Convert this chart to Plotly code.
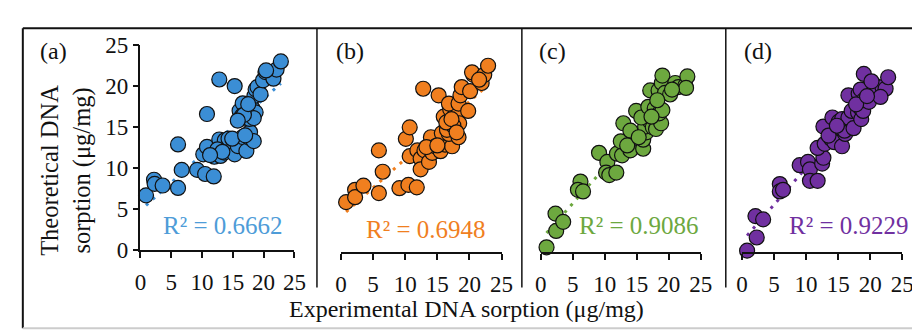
import numpy as np
import plotly.graph_objects as go

# ---------------- data ----------------
x_a = [0.9, 2.2, 2.3, 3.6, 6.1, 6.1, 6.7, 9.2, 10.5, 11.9, 10.8, 12.8, 15.3, 10.2, 10.8, 12.0, 12.8, 13.0,
       13.6, 13.8, 13.7, 14.3, 14.9, 15.3, 15.8, 16.6, 17.2, 17.7, 17.8, 18.4, 14.9, 16.1, 16.6, 16.2, 16.5,
       17.3, 17.7, 18.2, 18.7, 18.4, 18.5, 18.7, 19.0, 19.5, 19.9, 20.3, 21.4, 21.6, 22.1, 22.8, 20.4, 12.5,
       13.3, 11.3, 16.8, 17.0, 15.8, 17.5]
y_a = [6.7, 8.6, 8.1, 7.9, 7.6, 12.9, 9.8, 9.8, 9.3, 9.0, 16.6, 20.8, 20.0, 11.7, 12.6, 11.4, 13.5, 11.5,
       11.9, 12.5, 13.4, 13.6, 12.2, 11.7, 12.7, 13.8, 12.1, 13.7, 14.4, 13.3, 13.6, 17.0, 17.9, 16.0, 16.4,
       16.2, 16.0, 17.3, 16.8, 16.1, 18.8, 19.6, 19.9, 19.0, 20.7, 21.7, 21.6, 20.9, 22.0, 23.0, 21.9, 12.3,
       12.0, 11.6, 16.5, 14.0, 15.8, 17.8]

x_b = [0.8, 2.2, 2.2, 3.5, 5.9, 5.9, 6.5, 9.1, 10.5, 11.8, 10.1, 10.7, 12.8, 15.2, 10.7, 11.9, 12.4, 12.4,
       13.0, 13.7, 14.0, 14.2, 14.7, 15.5, 16.2, 17.3, 15.7, 16.8, 18.3, 16.5, 16.0, 17.0, 17.8, 18.4, 17.5,
       16.8, 18.3, 18.6, 18.8, 19.8, 20.1, 20.6, 20.4, 21.9, 22.3, 22.9, 13.3, 15.0, 16.4, 17.2, 18.0, 21.5]
y_b = [6.1, 7.6, 6.7, 8.1, 7.2, 12.4, 9.8, 7.8, 8.2, 7.9, 13.8, 15.2, 19.9, 19.1, 11.7, 12.4, 11.4, 10.1,
       12.4, 11.0, 14.0, 12.1, 12.9, 12.3, 13.1, 12.9, 14.5, 14.4, 14.0, 14.9, 16.5, 17.4, 16.8, 15.7, 15.4,
       18.1, 18.1, 19.1, 20.1, 17.2, 19.6, 21.6, 21.9, 20.6, 21.6, 22.7, 12.8, 13.0, 15.8, 16.2, 14.6, 21.0]

x_c = [0.9, 2.4, 2.3, 3.5, 6.2, 5.8, 6.6, 9.1, 10.4, 10.2, 10.7, 11.8, 11.9, 12.7, 12.5, 14.0, 12.9, 14.0,
       14.9, 16.0, 16.0, 16.5, 16.3, 17.0, 17.5, 18.0, 18.8, 15.7, 16.8, 17.8, 18.5, 19.0, 17.1, 18.4, 18.9,
       19.0, 19.4, 20.2, 21.0, 21.5, 22.6, 22.9, 22.7, 13.5, 15.3, 17.3, 18.2, 20.5]
y_c = [0.6, 2.6, 4.7, 3.7, 8.6, 7.6, 7.4, 12.1, 11.0, 9.7, 9.4, 9.7, 12.0, 11.8, 13.5, 12.4, 15.7, 14.8,
       17.2, 12.6, 13.7, 14.6, 15.3, 16.0, 15.2, 15.0, 15.7, 16.4, 17.7, 17.5, 16.9, 17.3, 19.7, 19.7, 20.6,
       21.5, 19.4, 19.2, 20.6, 20.1, 20.3, 21.4, 20.0, 13.0, 14.0, 16.5, 18.5, 19.8]

x_d = [0.8, 2.3, 2.1, 3.3, 5.9, 5.9, 6.4, 9.0, 10.3, 10.6, 10.6, 11.8, 12.5, 12.7, 11.8, 12.9, 12.7, 13.9,
       14.4, 14.1, 15.6, 16.1, 16.0, 15.1, 15.6, 16.6, 17.4, 17.1, 18.1, 18.6, 18.4, 18.9, 16.6, 18.2, 18.5,
       19.0, 19.0, 19.8, 20.6, 20.9, 21.9, 22.4, 22.8, 21.6, 13.5, 14.8, 17.8, 19.5, 20.2]
y_d = [0.2, 1.8, 4.4, 4.0, 8.3, 7.4, 7.6, 10.6, 11.0, 10.1, 8.7, 8.7, 10.8, 11.5, 12.7, 13.2, 15.3, 13.8,
       13.4, 16.4, 12.9, 14.4, 14.8, 15.9, 16.2, 16.4, 15.1, 17.2, 17.0, 16.2, 17.6, 17.2, 19.1, 19.3, 19.8,
       18.5, 21.7, 18.3, 20.4, 19.5, 20.1, 19.9, 21.3, 18.9, 14.2, 15.4, 18.0, 19.0, 20.8]

panel_labels = ["(a)", "(b)", "(c)", "(d)"]
r2_labels = ["R² = 0.6662", "R² = 0.6948", "R² = 0.9086", "R² = 0.9229"]
tick_vals = [0, 5, 10, 15, 20, 25]

# ---------------- styling ----------------
W, H = 920, 335
FONT = "Liberation Serif, Times New Roman, serif"
marker_colors = ["#3B8ED5", "#F07F1F", "#6DA83F", "#7030A0"]
text_colors = ["#4E9CD8", "#F07F1F", "#6DA83F", "#7030A0"]
x_px = [(129, 286), (333.5, 497.3), (537.3, 700.5), (742.5, 906)]
y_px = [(27, 249), (29, 251), (29, 251), (29, 251)]
label_pos = [(40, 33), (343, 33), (549, 33), (759, 33)]
r2_pos = [(213, 222), (420, 226), (637, 222), (852, 222)]

def px_x(p):
    return p / W

def px_y(p):
    return 1 - p / H

series = [(x_a, y_a), (x_b, y_b), (x_c, y_c), (x_d, y_d)]

fig = go.Figure()
layout = dict(
    width=W, height=H, margin=dict(l=0, r=0, t=0, b=0),
    paper_bgcolor="white", plot_bgcolor="white", showlegend=False,
    font=dict(family=FONT, size=23, color="#111111"),
)

for i, (xs, ys) in enumerate(series):
    n = "" if i == 0 else str(i + 1)
    xa, ya = "x" + n, "y" + n
    xs_arr = np.array(xs)
    ys_arr = np.array(ys)
    m, b = np.polyfit(xs_arr, ys_arr, 1)
    xl = np.array([xs_arr.min(), xs_arr.max()])
    fig.add_trace(go.Scatter(
        x=xl, y=m * xl + b, mode="lines", xaxis=xa, yaxis=ya,
        line=dict(color=marker_colors[i], width=3, dash="3px,6px"), hoverinfo="skip"))
    fig.add_trace(go.Scatter(
        x=xs, y=ys, mode="markers", xaxis=xa, yaxis=ya, cliponaxis=False,
        marker=dict(size=15, color=marker_colors[i], line=dict(color="#111111", width=1.2))))

    layout["xaxis" + n] = dict(
        domain=[px_x(x_px[i][0]), px_x(x_px[i][1])], anchor=ya, range=[0, 25],
        tickmode="array", tickvals=tick_vals, ticks="outside", ticklen=6, tickwidth=1.5,
        tickcolor="#111111", showline=True, linecolor="#111111", linewidth=1.5,
        ticklabelstandoff=4,
        showgrid=False, zeroline=False, tickfont=dict(size=23, family=FONT, color="#111111"))
    layout["yaxis" + n] = dict(
        domain=[px_y(y_px[i][1]), px_y(y_px[i][0])], anchor=xa, range=[0, 25],
        tickmode="array", tickvals=tick_vals, ticks="outside" if i == 0 else "",
        ticklen=6, tickwidth=1.5, tickcolor="#111111",
        showline=(i == 0), linecolor="#111111", linewidth=1.5, showticklabels=(i == 0),
        showgrid=False, zeroline=False, tickfont=dict(size=23, family=FONT, color="#111111"))

annotations = []
for i in range(4):
    annotations.append(dict(
        x=px_x(label_pos[i][0]), y=px_y(label_pos[i][1]), xref="paper", yref="paper",
        text=panel_labels[i], showarrow=False, xanchor="center", yanchor="middle",
        font=dict(size=24, family=FONT, color="#111111")))
    annotations.append(dict(
        x=px_x(r2_pos[i][0]), y=px_y(r2_pos[i][1]), xref="paper", yref="paper",
        text=r2_labels[i], showarrow=False, xanchor="center", yanchor="middle",
        font=dict(size=25, family=FONT, color=text_colors[i])))

annotations.append(dict(
    x=px_x(53), y=px_y(162), xref="paper", yref="paper", textangle=-90,
    text="Theoretical DNA<br>sorption (μg/mg)", showarrow=False,
    xanchor="center", yanchor="middle", font=dict(size=24.5, family=FONT, color="#111111")))
annotations.append(dict(
    x=px_x(462), y=px_y(312), xref="paper", yref="paper",
    text="Experimental DNA sorption (μg/mg)", showarrow=False,
    xanchor="center", yanchor="middle", font=dict(size=24, family=FONT, color="#111111")))
layout["annotations"] = annotations

shapes = [
    dict(type="line", xref="paper", yref="paper", x0=px_x(9), x1=px_x(920), y0=px_y(9), y1=px_y(9),
         line=dict(color="#111111", width=2)),
    dict(type="line", xref="paper", yref="paper", x0=px_x(9), x1=px_x(9), y0=px_y(9), y1=px_y(333),
         line=dict(color="#111111", width=2)),
    dict(type="line", xref="paper", yref="paper", x0=px_x(9), x1=px_x(920), y0=px_y(333), y1=px_y(333),
         line=dict(color="#CCCCCC", width=2)),
]
for dx in [309, 518, 726]:
    shapes.append(dict(type="line", xref="paper", yref="paper", x0=px_x(dx), x1=px_x(dx),
                       y0=px_y(9), y1=px_y(289), line=dict(color="#111111", width=1.5)))
layout["shapes"] = shapes

fig.update_layout(**layout)
fig.write_html("out.html")
